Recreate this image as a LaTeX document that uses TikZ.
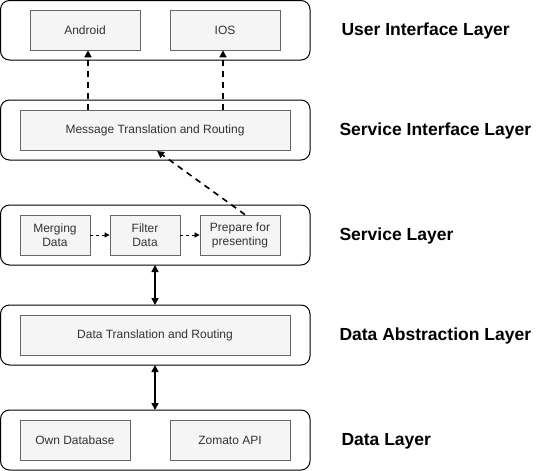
\documentclass[tikz,border=0pt]{standalone}
\usepackage{fontspec}
\setmainfont{Liberation Sans}
\usetikzlibrary{arrows.meta}
\begin{document}
\begin{tikzpicture}[x=1pt,y=-1pt,
  layerbox/.style={draw=black,line width=1pt,rounded corners=9pt,fill=white},
  inbox/.style={draw=black!60,fill=black!4,line width=0.8pt,text=black!80,font=\fontsize{12}{14}\selectfont,align=center},
  lbl/.style={anchor=west,font=\bfseries\fontsize{17.5}{20}\selectfont},
  dasharrow/.style={-{Triangle[length=7pt,width=7pt]},line width=1.6pt,dash pattern=on 6pt off 5pt},
  smalldash/.style={-{Triangle[length=5pt,width=5pt]},line width=0.8pt,dash pattern=on 3pt off 3pt},
  dbl/.style={{Triangle[length=7pt,width=7pt]}-{Triangle[length=7pt,width=7pt]},line width=1.6pt}]
\useasboundingbox (0,0) rectangle (541,471);
% layers
\path[layerbox] (0.5,0.5) rectangle (310,60);
\path[layerbox] (0.5,100) rectangle (310,160);
\path[layerbox] (0.5,205) rectangle (310,265);
\path[layerbox] (0.5,305) rectangle (310,365);
\path[layerbox] (0.5,410) rectangle (310,470);
\coordinate (l3b) at (155,265);
\coordinate (l4t) at (155,305);
\coordinate (l4b) at (155,365);
\coordinate (l5t) at (155,410);
% inner boxes
\node[inbox,minimum width=110pt,minimum height=40pt] (android) at (85,30) {Android};
\node[inbox,minimum width=110pt,minimum height=40pt] (ios) at (225,30) {IOS};
\node[inbox,minimum width=270pt,minimum height=40pt] (msg) at (155,130) {Message Translation and Routing};
\node[inbox,minimum width=70pt,minimum height=40pt,inner sep=1pt] (merge) at (55,235) {Merging\\Data};
\node[inbox,minimum width=70pt,minimum height=40pt,inner sep=1pt] (filter) at (145,235) {Filter\\Data};
\node[inbox,minimum width=80pt,minimum height=40pt,inner sep=1pt] (prep) at (240,235) {Prepare for\\presenting};
\node[inbox,minimum width=270pt,minimum height=40pt] (dtr) at (155,335) {Data Translation and Routing};
\node[inbox,minimum width=110pt,minimum height=40pt] (own) at (75,440) {Own Database};
\node[inbox,minimum width=120pt,minimum height=40pt] (zom) at (230,440) {Zomato API};
% labels
\node[lbl] (t1) at (338,31) {User Interface Layer};
\node[lbl] (t2) at (336,131) {Service Interface Layer};
\node[lbl] (t3) at (336,236) {Service Layer};
\node[lbl] (t4) at (336,336) {Data Abstraction Layer};
\node[lbl] (t5) at (338,441) {Data Layer};
% connectors
\draw[dasharrow] (msg.north -| 88,0) -- (android.south -| 88,0);
\draw[dasharrow] (msg.north -| 223,0) -- (ios.south -| 223,0);
\draw[dasharrow] (prep.north -| 245,0) -- (157,151);
\draw[smalldash] (merge) -- (filter);
\draw[smalldash] (filter) -- (prep);
\draw[dbl] (l3b) -- (l4t);
\draw[dbl] (l4b) -- (l5t);
\end{tikzpicture}
\end{document}
